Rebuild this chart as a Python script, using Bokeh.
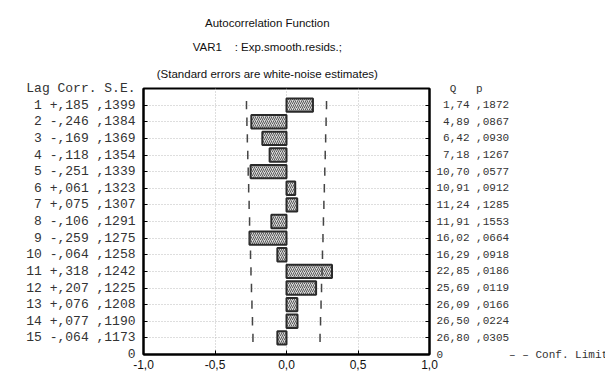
from bokeh.plotting import figure
from bokeh.models import (Range1d, FixedTicker, LinearAxis, CustomJSTickFormatter, Title)
from bokeh.embed import file_html
from bokeh.resources import INLINE

# ---- data ----
lags = [1, 2, 3, 4, 5, 6, 7, 8, 9, 10, 11, 12, 13, 14, 15]
corr = [0.185, -0.246, -0.169, -0.118, -0.251, 0.061, 0.075, -0.106, -0.259, -0.064,
        0.318, 0.207, 0.076, 0.077, -0.064]
se = [0.1399, 0.1384, 0.1369, 0.1354, 0.1339, 0.1323, 0.1307, 0.1291, 0.1275, 0.1258,
      0.1242, 0.1225, 0.1208, 0.1190, 0.1173]
q_stat = [1.74, 4.89, 6.42, 7.18, 10.70, 10.91, 11.24, 11.91, 16.02, 16.29,
          22.85, 25.69, 26.09, 26.50, 26.80]
p_val = [0.1872, 0.0867, 0.0930, 0.1267, 0.0577, 0.0912, 0.1285, 0.1553, 0.0664, 0.0918,
         0.0186, 0.0119, 0.0166, 0.0224, 0.0305]
x_ticks = [-1.0, -0.5, 0.0, 0.5, 1.0]
title_lines = ["Autocorrelation Function",
               "VAR1\u00a0\u00a0\u00a0\u00a0: Exp.smooth.resids.;",
               "(Standard errors are white-noise estimates)"]
left_header = "Lag Corr. S.E."
right_header = "\u00a0\u00a0Q\u00a0\u00a0\u00a0p"
legend_text = "\u2013 \u2013 Conf. Limit"

NB = "\u00a0"
SANS = "Liberation Sans"
MONO = "Liberation Mono"

def corr_txt(c):
    return ("+" if c >= 0 else "-") + "," + f"{abs(c):.3f}".split(".")[1]

def frac4(v):
    return "," + f"{v:.4f}".split(".")[1]

left_labels = {0: left_header.replace(" ", NB), len(lags) + 1: "0"}
# bottom right tick carries the "0" and the confidence-limit key on the same line
right_labels = {0: right_header,
                len(lags) + 1: ("0" + NB * 10 + legend_text).replace(" ", NB)}
for L, c, s, q, pv in zip(lags, corr, se, q_stat, p_val):
    left_labels[L] = (f"{L:>2d} {corr_txt(c)} {frac4(s)}").replace(" ", NB)
    right_labels[L] = (f"{q:5.2f}".replace(".", ",") + " " + frac4(pv)).replace(" ", NB)

p = figure(width=605, height=382, frame_width=286, frame_height=266,
           output_backend="svg", toolbar_location=None,
           x_range=Range1d(-1, 1), y_range=Range1d(len(lags) + 1, 0),
           min_border_left=143, min_border_right=0, min_border_top=88,
           min_border_bottom=28, x_axis_location=None, y_axis_location=None)

p.background_fill_color = "white"
p.border_fill_color = "white"
p.outline_line_color = "black"
p.outline_line_width = 2

# titles: p.title is outermost; later-added titles sit further out than earlier ones
SHIFT = NB * 12   # trailing padding moves the centred block left, as in the reference
def style_title(t, standoff):
    t.align = "center"
    t.text_font = SANS
    t.text_font_size = "11.5px"
    t.text_font_style = "normal"
    t.text_color = "#111111"
    t.standoff = standoff

p.title.text = title_lines[0] + SHIFT
style_title(p.title, 11)
for line, so in ((title_lines[2], 17), (title_lines[1], 9)):
    t = Title(text=line + SHIFT)
    style_title(t, so)
    p.add_layout(t, "above")

# axes
xb = LinearAxis(ticker=FixedTicker(ticks=x_ticks),
                formatter=CustomJSTickFormatter(code="return tick.toFixed(1).replace('.', ',')"))
xb.major_label_text_font = SANS
xb.major_label_text_font_size = "12px"
xb.major_label_text_color = "#111111"
xb.major_tick_in = 4
xb.major_tick_out = 0
xb.minor_tick_line_color = None
xb.axis_line_color = "black"
xb.axis_line_width = 2
xb.major_label_standoff = 5
p.add_layout(xb, "below")

yticks = list(range(0, len(lags) + 2))
for side, labels, size in (("left", left_labels, "13px"), ("right", right_labels, "11px")):
    ax = LinearAxis(ticker=FixedTicker(ticks=yticks), major_label_overrides=labels)
    ax.major_label_text_font = MONO
    ax.major_label_text_font_size = size
    ax.major_label_text_color = "#333333"
    ax.major_tick_in = 4
    ax.major_tick_out = 0
    ax.minor_tick_line_color = None
    ax.axis_line_color = "black"
    ax.axis_line_width = 2
    ax.major_label_standoff = 8 if side == "left" else 7
    p.add_layout(ax, side)

# grid
p.xgrid.ticker = FixedTicker(ticks=x_ticks)
p.ygrid.ticker = FixedTicker(ticks=lags)
for g in (p.xgrid, p.ygrid):
    g.grid_line_color = "#bdbdbd"
    g.grid_line_dash = "1 2"
    g.grid_line_width = 1

# bars
p.hbar(y=lags, left=0, right=corr, height=0.8,
       fill_color="#d9d9d9", line_color="#2a2a2a", line_width=2,
       hatch_pattern="/", hatch_scale=4, hatch_weight=1, hatch_color="#5a5a5a")

# confidence limits (+/- 2 S.E.)
upper = [2 * s for s in se]
lower = [-2 * s for s in se]
y0 = [L - 0.25 for L in lags]
y1 = [L + 0.25 for L in lags]
p.segment(x0=lower, x1=lower, y0=y0, y1=y1, line_color="#444444", line_width=1.5,
          line_dash="9 4")
p.segment(x0=upper, x1=upper, y0=y0, y1=y1, line_color="#444444", line_width=1.5,
          line_dash="9 4")

open("out.html", "w").write(file_html(p, INLINE))
